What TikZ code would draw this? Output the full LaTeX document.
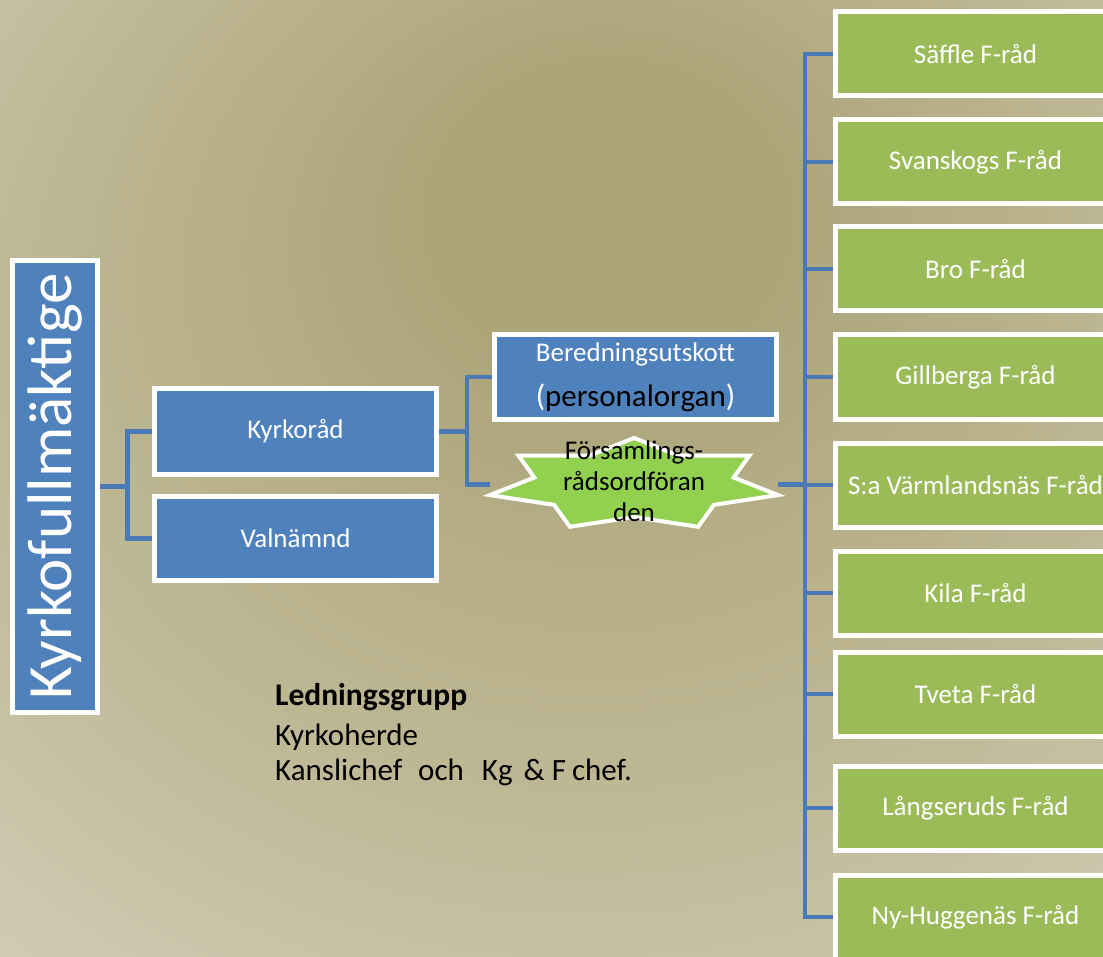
\documentclass[tikz,border=0pt]{standalone}
\usepackage{fontspec}
\setmainfont{Carlito}
\usetikzlibrary{calc}
\definecolor{bgin}{RGB}{172,165,122}
\definecolor{bgmid}{RGB}{190,183,148}
\definecolor{bgmid2}{RGB}{208,203,180}
\definecolor{bgout}{RGB}{227,223,208}
\definecolor{boxblue}{RGB}{79,129,189}
\definecolor{boxgreen}{RGB}{155,187,89}
\definecolor{stargreen}{RGB}{146,208,80}
\definecolor{connblue}{RGB}{74,122,182}
\pgfdeclareradialshading{bgshade}{\pgfpoint{3bp}{16bp}}{color(0bp)=(bgin); color(8bp)=(bgin); color(25bp)=(bgmid); color(40bp)=(bgmid2); color(58bp)=(bgout)}
\pgfdeclarelayer{bg}
\pgfdeclarelayer{lines}
\pgfdeclarelayer{shapes}
\pgfsetlayers{bg,lines,shapes,main}
\begin{document}
\begin{tikzpicture}[x=1pt,y=-1pt,
  bluebox/.style={draw=white, line width=5pt, fill=boxblue, text=white,
    font=\fontsize{27}{32}\selectfont, minimum width=282pt, inner sep=0pt},
  greenbox/.style={draw=white, line width=5pt, fill=boxgreen, text=white,
    font=\fontsize{27}{32}\selectfont, minimum width=280pt, minimum height=84pt, inner sep=0pt},
  conn/.style={draw=connblue, line width=4.5pt},
  plain/.style={anchor=base west, inner sep=0pt, text=black}]
\useasboundingbox (0,0) rectangle (1103,957);
\clip (0,0) rectangle (1103,957);
\begin{pgfonlayer}{bg}
\shade[shading=bgshade] (0,0) rectangle (1103,957);
\end{pgfonlayer}

% left column
\node[bluebox, rotate=90, minimum width=452pt, minimum height=85pt,
      font=\fontsize{63}{70}\selectfont] (kf) at (55,486.5) {Kyrkofullmäktige};
\node[bluebox, minimum height=86pt] (kr) at (295.5,431.5) {Kyrkoråd};
\node[bluebox, minimum height=84pt] (vn) at (295.5,538.5) {Valnämnd};

% middle
\node[bluebox, minimum height=85pt, align=center, font=\fontsize{27}{45}\selectfont]
  (ber) at (635.5,377) {Beredningsutskott\\{\fontsize{31}{45}\selectfont(\textcolor{black}{personalorgan})}};
\node[font=\fontsize{27}{31}\selectfont, align=center, minimum width=288pt,
      minimum height=93.4pt, inner sep=0pt, text depth=7pt, text=black]
  (fors) at (634,484.7) {Församlings-\\rådsordföran\\den};

% right column
\node[greenbox] (g1) at (975.5,54)  {Säffle F-råd};
\node[greenbox] (g2) at (975.5,162) {Svanskogs F-råd};
\node[greenbox] (g3) at (975.5,269) {Bro F-råd};
\node[greenbox] (g4) at (975.5,377) {Gillberga F-råd};
\node[greenbox] (g5) at (975.5,485) {S:a Värmlandsnäs F-råd};
\node[greenbox] (g6) at (975.5,593) {Kila F-råd};
\node[greenbox] (g7) at (975.5,694) {Tveta F-råd};
\node[greenbox] (g8) at (975.5,808) {Långseruds F-råd};
\node[greenbox] (g9) at (975.5,917) {Ny-Huggenäs F-råd};

% Ledningsgrupp
\node[plain, font=\fontsize{31.5}{36}\selectfont\bfseries] (lg1) at (275,705) {Ledningsgrupp};
\node[plain, font=\fontsize{31}{36}\selectfont] (lg2) at (275,745) {Kyrkoherde};
\node[plain, font=\fontsize{31}{36}\selectfont] (lg3) at (275,780)
  {Kanslichef\hspace{16pt}och\hspace{18pt}Kg\hspace{11pt}\&\hspace{7pt}F\hspace{6pt}chef.};

% star shape
\begin{pgfonlayer}{shapes}
\filldraw[fill=stargreen, draw=white, line width=4pt, line join=miter, miter limit=20, shift={(fors.center)}]
  (0,-46.7) -- (44.35,-29.10) -- (115.47,-29.12) -- (99.64,-7.19) -- (144.0,10.39)
  -- (79.90,20.14) -- (64.09,42.08) -- (0,32.3) -- (-64.09,42.08) -- (-79.90,20.14)
  -- (-144.0,10.39) -- (-99.64,-7.19) -- (-115.47,-29.12) -- (-44.35,-29.10) -- cycle;
\end{pgfonlayer}

% connectors
\begin{pgfonlayer}{lines}
\draw[conn] (kf.south) -- ++(27.5,0) coordinate (j1);
\draw[conn] (kr.west) -| (j1) |- (vn.west);
\draw[conn] (kr.east) -- ++(28,0) coordinate (j2);
\draw[conn] (ber.west) -| (j2) |- (fors.west);
\draw[conn] (fors.east) -- ++(27,0) coordinate (j3);
\draw[conn] (g1.west) -| (j3) |- (g9.west);
\foreach \g in {2,...,8} {\draw[conn] (j3 |- g\g.west) -- (g\g.west);}
\end{pgfonlayer}
\end{tikzpicture}
\end{document}
